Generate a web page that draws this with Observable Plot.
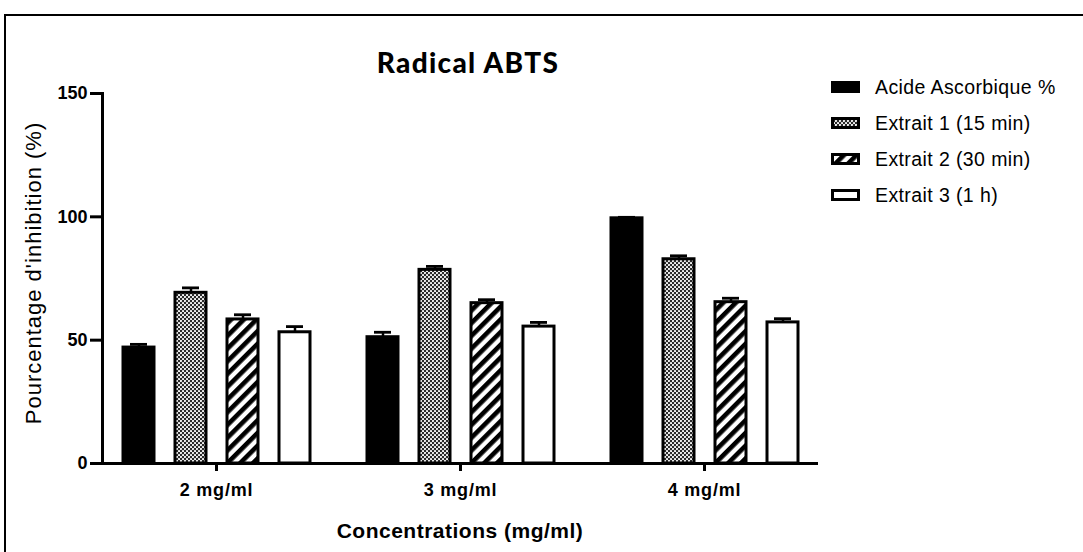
<!DOCTYPE html>
<html>
<head>
<meta charset="utf-8">
<script src="https://cdn.jsdelivr.net/npm/d3@7"></script>
<script src="https://cdn.jsdelivr.net/npm/@observablehq/plot@0.6"></script>
<style>
html, body { margin: 0; padding: 0; background: #fff; overflow: hidden; }
#wrap { position: relative; width: 1083px; height: 552px; overflow: hidden; font-family: "Liberation Sans", Arial, sans-serif; color: #000; }
#border { position: absolute; left: 4px; top: 14px; width: 2000px; height: 2000px; border: 2px solid #000; box-sizing: border-box; }
#chart { position: absolute; left: 0; top: 0; }
#title { position: absolute; left: 0; width: 936px; top: 48px; text-align: center; font-family: Lato, sans-serif; font-weight: 900; font-size: 28px; line-height: 28px; letter-spacing: 1.3px; }
#ylabel { position: absolute; width: 400px; height: 22px; left: -165.6px; top: 262px; line-height: 22px; font-size: 22px; letter-spacing: 1px; text-align: center; transform: rotate(-90deg); white-space: nowrap; }
#xlabel { position: absolute; left: 0; width: 920px; top: 520px; text-align: center; font-weight: bold; font-size: 21px; line-height: 21px; letter-spacing: 0.5px; white-space: nowrap; }
#legend { position: absolute; left: 831px; top: 69px; }
.row { display: flex; align-items: center; height: 36px; }
.row svg { display: block; margin-right: 15px; }
.row span { font-size: 19.5px; letter-spacing: 0.4px; white-space: nowrap; }
</style>
</head>
<body>
<svg width="0" height="0" style="position:absolute">
  <defs>
    <pattern id="dots" width="4" height="4" patternUnits="userSpaceOnUse">
      <rect width="4" height="4" fill="#2a2a2a"></rect>
      <circle cx="1" cy="1" r="1.05" fill="#fff"></circle>
      <circle cx="3" cy="3" r="1.05" fill="#fff"></circle>
    </pattern>
    <pattern id="stripes" width="9" height="9" patternUnits="userSpaceOnUse" patternTransform="rotate(45)">
      <rect width="4.8" height="9" fill="#000"></rect>
      <rect x="4.8" width="4.2" height="9" fill="#fff"></rect>
    </pattern>
  </defs>
</svg>
<div id="wrap">
  <div id="border"></div>
  <div id="chart"></div>
  <div id="title"></div>
  <div id="ylabel"></div>
  <div id="xlabel"></div>
  <div id="legend"></div>
</div>
<script>
// ---- data ----
const titleText = "Radical ABTS";
const yLabelText = "Pourcentage d'inhibition (%)";
const xLabelText = "Concentrations (mg/ml)";
const concentrations = ["2 mg/ml", "3 mg/ml", "4 mg/ml"];
const seriesNames = ["Acide Ascorbique %", "Extrait 1 (15 min)", "Extrait 2 (30 min)", "Extrait 3 (1 h)"];
const acideAscorbique = [47.0, 51.2, 99.4];
const acideAscorbiqueErr = [1.3, 2.0, 0.4];
const extrait1 = [69.2, 78.5, 82.8];
const extrait1Err = [2.0, 1.4, 1.4];
const extrait2 = [58.4, 65.0, 65.4];
const extrait2Err = [1.9, 1.4, 1.6];
const extrait3 = [53.2, 55.5, 57.2];
const extrait3Err = [2.3, 1.7, 1.5];
const yTicks = [0, 50, 100, 150];

// ---- styles ----
const fills = ["#000", "url(#dots)", "url(#stripes)", "#fff"];

const values = [acideAscorbique, extrait1, extrait2, extrait3];
const errors = [acideAscorbiqueErr, extrait1Err, extrait2Err, extrait3Err];
const data = [];
concentrations.forEach((c, i) => {
  seriesNames.forEach((s, j) => {
    data.push({conc: c, series: s, value: values[j][i], err: errors[j][i]});
  });
});

const barMarks = seriesNames.map((s, j) =>
  Plot.barY(data.filter(d => d.series === s), {
    fx: "conc", x: "series", y: "value",
    fill: fills[j], stroke: "#000", strokeWidth: 3
  })
);

const chart = Plot.plot({
  width: 1083,
  height: 552,
  marginLeft: 102,
  marginRight: 265,
  marginTop: 93,
  marginBottom: 89,
  style: {fontFamily: "'Liberation Sans', Arial, sans-serif", color: "#000", background: "transparent"},
  fx: {domain: concentrations, paddingInner: 0.066, paddingOuter: 0, label: null},
  x: {domain: seriesNames, axis: null, paddingInner: 0.41, paddingOuter: 0.377},
  y: {domain: [0, 150], label: null},
  marks: [
    Plot.ruleX(data, {fx: "conc", x: "series", y1: "value", y2: d => d.value + d.err, strokeWidth: 2.5}),
    Plot.tickY(data, {fx: "conc", x: "series", y: d => d.value + d.err, strokeWidth: 2.8, insetLeft: 7, insetRight: 7}),
    ...barMarks,
    // baseline: bridge the gaps between facets
    Plot.ruleY(concentrations.slice(0, -1), {fx: d => d, y: () => 0, strokeWidth: 3, insetRight: -17}),
    Plot.ruleY(concentrations.slice(-1), {fx: d => d, y: () => 0, strokeWidth: 3}),
    Plot.frame({anchor: "left", facet: "super", strokeWidth: 3}),
    Plot.axisY({ticks: yTicks, tickSize: 12, tickPadding: 3, strokeWidth: 3, fontSize: 18, fontWeight: "bold", label: null}),
    Plot.axisFx({anchor: "bottom", tickSize: 8, tickPadding: 12, strokeWidth: 3, fontSize: 18, fontWeight: "bold", label: null})
  ]
});
document.getElementById("chart").appendChild(chart);
d3.select(chart).selectAll('[aria-label="fx-axis tick label"] text').style("letter-spacing", "0.8px");

document.getElementById("title").textContent = titleText;
document.getElementById("ylabel").textContent = yLabelText;
document.getElementById("xlabel").textContent = xLabelText;

const legend = d3.select("#legend");
const swH = [12, 9, 9, 9];
seriesNames.forEach((s, j) => {
  const row = legend.append("div").attr("class", "row");
  const sv = row.append("svg").attr("width", 29).attr("height", 14);
  sv.append("rect")
    .attr("x", j === 0 ? 0 : 1.5)
    .attr("y", (14 - swH[j]) / 2)
    .attr("width", j === 0 ? 29 : 26)
    .attr("height", swH[j])
    .attr("fill", fills[j])
    .attr("stroke", j === 0 ? "none" : "#000")
    .attr("stroke-width", 3);
  row.append("span").text(s);
});
</script>
</body>
</html>
